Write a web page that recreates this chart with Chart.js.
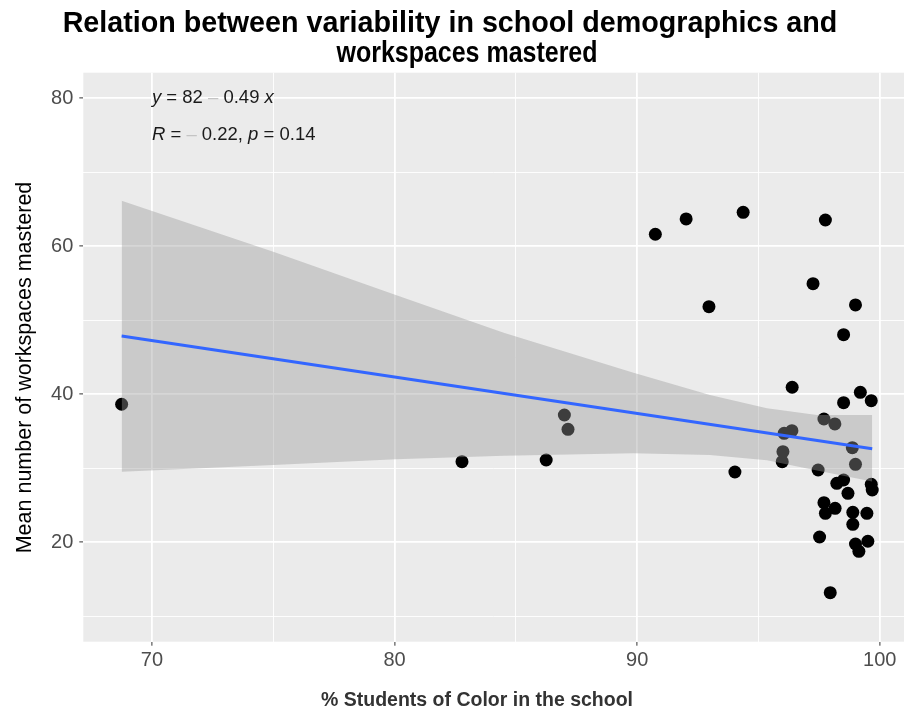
<!DOCTYPE html>
<html>
<head>
<meta charset="utf-8">
<script src="https://cdn.jsdelivr.net/npm/chart.js@4/dist/chart.umd.min.js"></script>
<style>
    html, body { margin: 0; padding: 0; background: #fff; }
    canvas { display: block; }
</style>
</head>
<body>
<canvas id="chart0" width="904" height="717"></canvas>
<script>
// one point per school: % students of color, mean workspaces mastered
const pctColor = [
    68.75, 82.78, 86.25, 87.0, 87.15, 90.75, 92.02, 92.96, 94.03, 94.37,
    95.98, 96.01, 96.06, 96.38, 96.39, 97.25, 97.46, 97.52, 97.7, 97.7,
    97.76, 97.76, 97.96, 98.15, 98.16, 98.23, 98.51, 98.51, 98.51, 98.69,
    98.87, 98.89, 98.89, 99.0, 99.0, 99.0, 99.14, 99.2, 99.47, 99.51,
    99.65, 99.65, 99.69
];
const workspaces = [
    38.65, 30.9, 31.12, 37.2, 35.27, 61.62, 63.69, 51.84, 29.5, 64.59,
    30.89, 32.24, 34.73, 35.08, 40.95, 54.95, 29.77, 20.72, 36.66, 25.35,
    63.55, 23.92, 13.19, 35.99, 24.59, 27.97, 48.05, 38.86, 28.42, 26.62,
    32.78, 24.05, 22.43, 52.07, 30.54, 19.77, 18.78, 40.27, 23.92, 20.14,
    39.14, 27.84, 27.07
];

// linear fit and its 95% band
const fitX = [68.75, 99.69];
const fitY = [47.88, 32.65];
const bandX = [68.75, 75.0, 80.05, 84.5, 89.85, 93.0, 95.35, 97.41, 99.69];
const bandHigh = [66.16, 59.27, 53.42, 48.3, 42.92, 39.9, 38.1, 37.2, 37.2];
const bandLow = [29.54, 30.45, 31.22, 31.7, 32.03, 31.8, 31.1, 29.7, 28.2];

const xTicks = [70, 75, 80, 85, 90, 95, 100];
const yTicks = [10, 20, 30, 40, 50, 60, 70, 80];
const xMajor = [70, 80, 90, 100];
const yMajor = [20, 40, 60, 80];

// regression label, placed at data coords (eqX, eqY[i])
const eqX = 70;
const eqY = [80, 75];
const eqLines = [
    [['y', 'i'], [' = 82 ', ''], ['\u2013', 'm'], [' 0.49 ', ''], ['x', 'i']],
    [['R', 'i'], [' = ', ''], ['\u2013', 'm'], [' 0.22, ', ''], ['p', 'i'], [' = 0.14', '']]
];

const titleLines = ['Relation between variability in school demographics and', 'workspaces mastered'];
const xTitle = '% Students of Color in the school';
const yTitle = 'Mean number of workspaces mastered';

const FONT = "'Liberation Sans', Arial, sans-serif";

const panelBg = {
    id: 'panelBg',
    beforeDraw(chart) {
        const { ctx, chartArea: a } = chart;
        ctx.save();
        ctx.fillStyle = '#ebebeb';
        ctx.fillRect(a.left, a.top, a.right - a.left, a.bottom - a.top);
        ctx.restore();
    }
};

// main title and both axis titles
const titles = {
    id: 'titles',
    afterDraw(chart) {
        const ctx = chart.ctx;
        ctx.save();
        ctx.textAlign = 'center';
        ctx.textBaseline = 'alphabetic';
        ctx.fillStyle = '#000000';
        ctx.font = 'bold 28.7px ' + FONT;
        ctx.fillText(titleLines[0], 450, 32);
        ctx.fillText(titleLines[1], 467, 62, 261);

        ctx.fillStyle = '#333333';
        ctx.font = 'bold 19.5px ' + FONT;
        ctx.fillText(xTitle, 477, 706);

        ctx.fillStyle = '#000000';
        ctx.font = '21.5px ' + FONT;
        ctx.translate(30.7, 367.5);
        ctx.rotate(-Math.PI / 2);
        ctx.fillText(yTitle, 0, 0);
        ctx.restore();
    }
};

const eqLabel = {
    id: 'eqLabel',
    afterDatasetsDraw(chart) {
        const ctx = chart.ctx;
        const xs = chart.scales.x, ys = chart.scales.y;
        ctx.save();
        ctx.textBaseline = 'middle';
        ctx.textAlign = 'left';
        eqLines.forEach((parts, i) => {
            let px = xs.getPixelForValue(eqX);
            const py = ys.getPixelForValue(eqY[i]);
            parts.forEach(([t, s]) => {
                ctx.font = (s === 'i' ? 'italic ' : '') + '18.5px ' + FONT;
                ctx.fillStyle = s === 'm' ? '#c4c4c4' : '#1a1a1a';
                ctx.fillText(t, px, py);
                px += ctx.measureText(t).width;
            });
        });
        ctx.restore();
    }
};

const ctx0 = document.getElementById('chart0').getContext('2d');

const chart0 = new Chart(ctx0, {
    type: 'scatter',
    data: {
        datasets: [
            {
                data: pctColor.map((x, i) => ({ x: x, y: workspaces[i] })),
                backgroundColor: '#000000',
                borderWidth: 0,
                pointRadius: 6.5,
                order: 3,
            },
            {
                type: 'line',
                data: bandX.map((x, i) => ({ x: x, y: bandHigh[i] })),
                borderWidth: 0,
                pointRadius: 0,
                fill: '+1',
                backgroundColor: 'rgba(153,153,153,0.4)',
                order: 2,
            },
            {
                type: 'line',
                data: bandX.map((x, i) => ({ x: x, y: bandLow[i] })),
                borderWidth: 0,
                pointRadius: 0,
                fill: false,
                order: 2,
            },
            {
                type: 'line',
                data: fitX.map((x, i) => ({ x: x, y: fitY[i] })),
                borderColor: '#3366ff',
                borderWidth: 3,
                pointRadius: 0,
                fill: false,
                order: 1,
            },
        ]
    },
    options: {
        responsive: false,
        animation: false,
        layout: { autoPadding: false, padding: { top: 72.7, left: 0, right: 0, bottom: 0 } },
        plugins: {
            legend: { display: false },
            tooltip: { enabled: false },
            title: { display: false },
        },
        scales: {
            x: {
                type: 'linear',
                min: 67.17,
                max: 101.0,
                afterBuildTicks: (s) => { s.ticks = xTicks.map(v => ({ value: v })); },
                afterFit: (s) => { s.height = 75.3; s.paddingLeft = 0; s.paddingRight = 0; },
                border: { display: false },
                grid: {
                    color: '#ffffff',
                    lineWidth: (c) => xMajor.includes(c.tick && c.tick.value) ? 1.8 : 0.9,
                    tickColor: (c) => xMajor.includes(c.tick && c.tick.value) ? '#333333' : 'rgba(0,0,0,0)',
                    tickLength: 4,
                    tickWidth: 1,
                },
                ticks: {
                    autoSkip: false,
                    maxRotation: 0,
                    padding: 3,
                    color: '#4d4d4d',
                    font: { family: FONT, size: 20 },
                    callback: (v) => xMajor.includes(v) ? String(v) : '',
                },
            },
            y: {
                type: 'linear',
                min: 6.57,
                max: 83.45,
                afterBuildTicks: (s) => { s.ticks = yTicks.map(v => ({ value: v })); },
                afterFit: (s) => { s.width = 83.3; s.paddingTop = 0; s.paddingBottom = 0; },
                border: { display: false },
                grid: {
                    color: '#ffffff',
                    lineWidth: (c) => yMajor.includes(c.tick && c.tick.value) ? 1.8 : 0.9,
                    tickColor: (c) => yMajor.includes(c.tick && c.tick.value) ? '#333333' : 'rgba(0,0,0,0)',
                    tickLength: 4,
                    tickWidth: 1,
                },
                ticks: {
                    autoSkip: false,
                    padding: 6,
                    color: '#4d4d4d',
                    font: { family: FONT, size: 20 },
                    callback: (v) => yMajor.includes(v) ? String(v) : '',
                },
            },
        },
    },
    plugins: [panelBg, titles, eqLabel],
});
</script>
</body>
</html>
